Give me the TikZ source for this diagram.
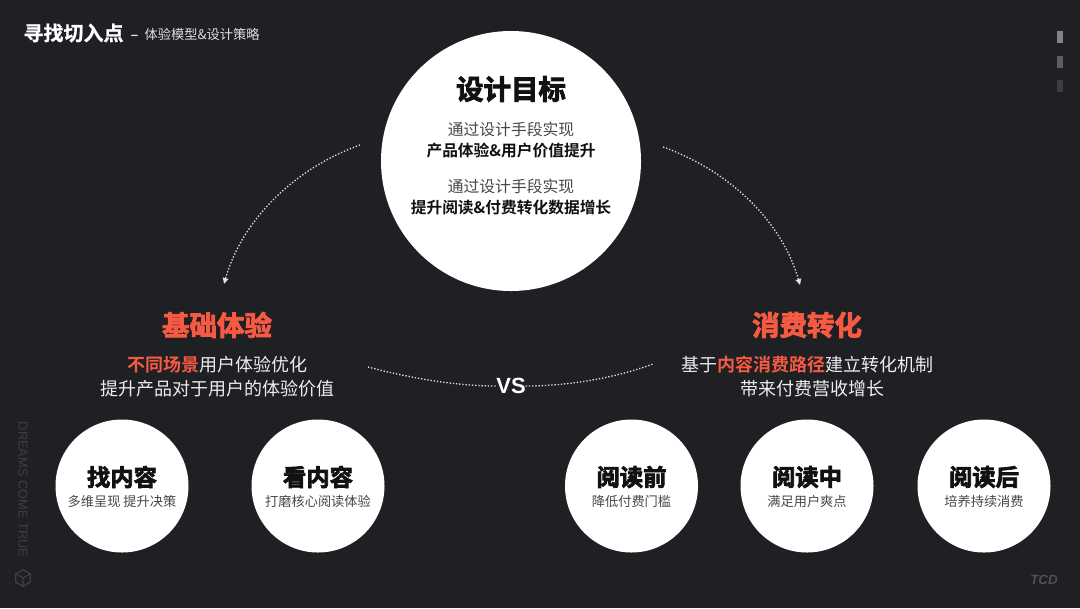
\documentclass[tikz,border=0pt]{standalone}
\usepackage{fontspec}
\usetikzlibrary{arrows.meta,shapes.geometric}
\setmainfont{Noto Sans CJK SC}[BoldFont={Noto Sans CJK SC Bold}]
\newfontfamily\latinb{Liberation Sans}
\newfontfamily\cjkheavy{Noto Sans CJK SC Bold}[FakeBold=3]
\newfontfamily\cjksemi{Noto Sans CJK SC Bold}
\newfontfamily\titlef{Noto Sans CJK SC Bold}[FakeBold=1]
\definecolor{bg}{HTML}{1F2024}
\definecolor{accent}{HTML}{F65A42}
\definecolor{ink}{HTML}{111111}
\definecolor{soft}{HTML}{484848}
\definecolor{mut}{HTML}{3E3F43}
\tikzset{
 x=0.75pt,y=-0.75pt,
 disc/.style={circle,fill=white,draw=none,inner sep=0pt,minimum size=#1*0.75pt},
 txt/.style={inner sep=0pt,outer sep=0pt,anchor=center},
 dots/.style={draw=white!85!bg,line width=1pt,dash pattern=on 1pt off 1.4pt},
 tip/.style={-{Triangle[length=4.5pt,width=4.2pt,fill=white]}},
 bigt/.style={txt,font=\cjkheavy\fontsize{20.6}{24}\selectfont},
 maint/.style={txt,font=\fontsize{11.85}{14}\selectfont,text=soft},
 mainb/.style={txt,font=\cjksemi\fontsize{11.8}{14}\selectfont,text=ink},
 wtxt/.style={txt,font=\fontsize{13.5}{16}\selectfont,text=white!92!bg},
 smallt/.style={txt,font=\cjkheavy\fontsize{17.5}{20}\selectfont,text=ink},
 smalls/.style={txt,font=\fontsize{9.9}{12}\selectfont,text=soft},
 bar/.style={fill=#1,draw=none,minimum width=4.5pt,minimum height=9pt,inner sep=0pt},
}
\begin{document}
\begin{tikzpicture}
\path[use as bounding box,fill=bg] (0,0) rectangle (1080,608);
% header
\node[txt,anchor=west,text=white,font=\titlef\fontsize{15}{18}\selectfont] (title) at (23.5,33) {寻找切入点};
\node[txt,text=white!85!bg,font=\latinb\bfseries\fontsize{10}{13}\selectfont] (dash) at (134.5,37) {–};
\node[txt,anchor=west,text=white!85!bg,font=\fontsize{9.95}{12}\selectfont] (sub) at (144.5,34) {体验模型\&设计策略};
% pager
\node[bar=white!45!bg] (b1) at (1060,37) {};
\node[bar=white!28!bg] (b2) at (1060,61.5) {};
\node[bar=white!13!bg] (b3) at (1060,86) {};
% main circle
\node[disc=260] (goal) at (511,161) {};
\node[bigt,text=ink] (goalt) at (511,89) {设计目标};
\node[maint] (g1) at (511,129) {通过设计手段实现};
\node[mainb] (g2) at (511,151) {产品体验\&用户价值提升};
\node[maint] (g3) at (511,186) {通过设计手段实现};
\node[mainb] (g4) at (511,208) {提升阅读\&付费转化数据增长};
% headings
\node[bigt,text=accent] (lh) at (217,325) {基础体验};
\node[bigt,text=accent] (rh) at (807,325) {消费转化};
\node[wtxt] (l1) at (217.5,365) {\textcolor{accent}{\cjksemi 不同场景}用户体验优化};
\node[wtxt] (l2) at (217.5,389) {提升产品对于用户的体验价值};
\node[wtxt] (r1) at (807.5,364.5) {基于\textcolor{accent}{\cjksemi 内容消费路径}建立转化机制};
\node[wtxt] (r2) at (812,388.5) {带来付费营收增长};
\node[txt,text=white,font=\latinb\bfseries\fontsize{16.5}{20}\selectfont] (vs) at (511,386) {VS};
% connectors
\coordinate (a1) at (360,145);
\coordinate (a2) at (224,284);
\coordinate (b1s) at (663,147);
\coordinate (b2s) at (800,285);
\coordinate (v1) at (368,367);
\coordinate (v2) at (653,364);
\draw[dots,tip] (a1) .. controls (298,167) and (243,217) .. (a2);
\draw[dots,tip] (b1s) .. controls (725,169) and (781,218) .. (b2s);
\draw[dots] (v1) .. controls (410,378) and (455,386) .. (vs.west);
\draw[dots] (vs.east) .. controls (565,386) and (612,379) .. (v2);
% small circles
\foreach \n/\x/\t/\s in {c1/122/找内容/多维呈现 提升决策,c2/318/看内容/打磨核心阅读体验,c3/631.5/阅读前/降低付费门槛,c4/807/阅读中/满足用户爽点,c5/984/阅读后/培养持续消费}{
 \node[disc=133] (\n) at (\x,486) {};
 \node[smallt] (\n t) at (\x,477) {\t};
 \node[smalls] (\n s) at (\x,501) {\s};
}
% watermark
\node[txt,rotate=-90,text=mut,font=\latinb\fontsize{9.6}{12}\selectfont] (dct) at (23,489.5) {DREAMS COME TRUE};
\node[regular polygon,regular polygon sides=6,shape border rotate=30,draw=mut,line width=1pt,minimum size=12.5pt,inner sep=0pt] (hex) at (23,578) {};
\draw[mut,line width=0.8pt] (hex.center) -- (hex.corner 2) (hex.center) -- (hex.corner 4) (hex.center) -- (hex.corner 6);
\node[txt,text=white!22!bg,font=\latinb\bfseries\itshape\fontsize{10}{12}\selectfont] (tcd) at (1044,580) {TCD};
\end{tikzpicture}
\end{document}
